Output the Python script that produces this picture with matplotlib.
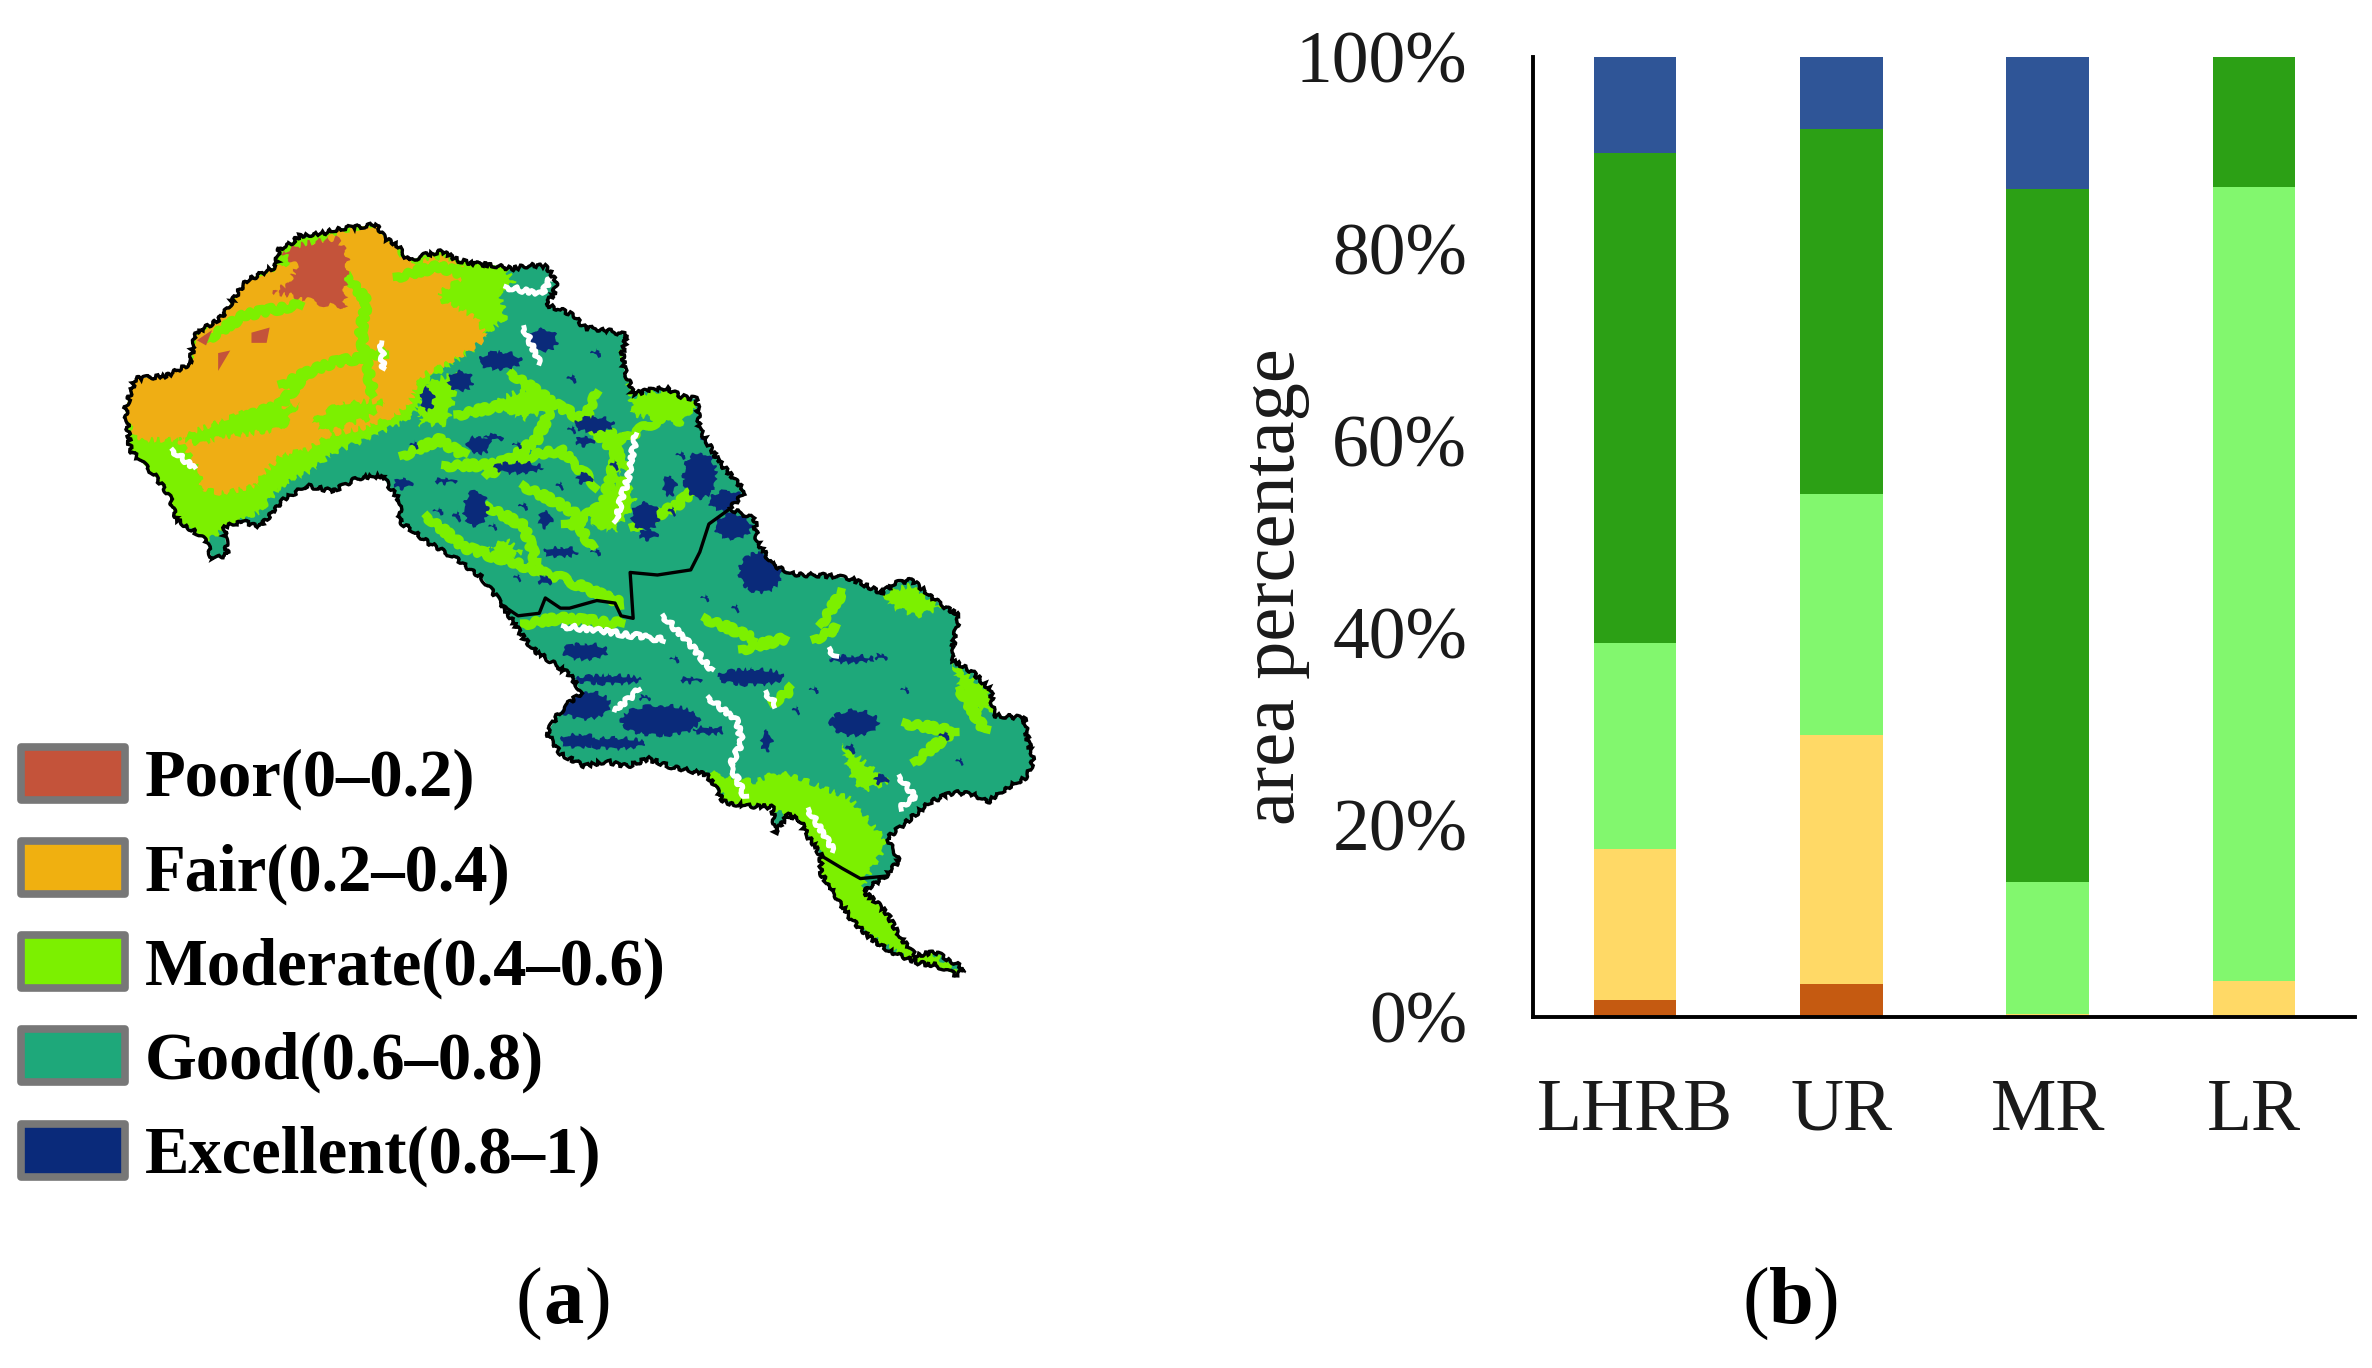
import matplotlib
matplotlib.use("Agg")
import matplotlib.pyplot as plt
from matplotlib.patches import Polygon, Rectangle, Ellipse

plt.rcParams['font.family'] = ['Liberation Serif', 'DejaVu Serif']

# ---- panel b data (percent of area)
regions = ['LHRB', 'UR', 'MR', 'LR']
poor = [1.8, 3.4, 0, 0]
fair = [15.7, 26.0, 0.3, 3.7]
moderate = [21.5, 25.1, 13.8, 82.8]
good = [51.0, 38.0, 72.2, 13.5]
excellent = [10.0, 7.5, 13.7, 0]
bar_colors = ['#C55A11', '#FFD966', '#82F76E', '#2CA015', '#2F5597']

legend_labels = ['Poor(0–0.2)', 'Fair(0.2–0.4)', 'Moderate(0.4–0.6)',
                 'Good(0.6–0.8)', 'Excellent(0.8–1)']
legend_colors = ['#C4533A', '#F0B010', '#7CF000', '#1EA87A', '#0A2A7A']

# ---- panel a data, outlines
basin = [(295,95),(312,88),(330,70),(365,66),(400,55),(430,52),(455,48),(470,75),(490,88),(510,120),(535,108),
         (565,100),(590,118),(620,125),(650,128),(680,135),(710,128),(735,130),(755,160),(748,185),(735,205),
         (760,215),(780,225),(800,250),(835,255),(870,265),(862,300),(865,330),(880,380),(910,372),(935,368),
         (960,385),(985,390),(990,450),(1005,480),(1020,510),(1045,545),(1065,570),(1040,605),(1080,625),
         (1085,670),(1110,715),(1150,735),(1190,735),(1240,742),(1290,770),(1315,750),(1340,745),(1365,770),
         (1385,790),(1418,815),(1410,860),(1405,900),(1440,925),(1470,960),(1475,1010),(1525,1015),(1532,1060),
         (1540,1100),(1530,1130),(1500,1150),(1465,1180),(1440,1165),(1410,1160),(1370,1180),(1335,1215),
         (1300,1250),(1318,1295),(1298,1325),(1260,1355),(1280,1375),(1300,1400),(1320,1445),(1345,1480),
         (1380,1475),(1425,1505),(1415,1520),(1380,1500),(1350,1495),(1300,1470),(1270,1445),(1240,1410),
         (1215,1365),(1190,1320),(1190,1285),(1170,1250),(1155,1215),(1135,1205),(1115,1240),(1110,1190),
         (1070,1188),(1030,1180),(1015,1150),(1000,1125),(940,1110),(905,1095),(870,1110),(835,1100),(800,1110),
         (760,1085),(738,1045),(755,1010),(770,990),(795,965),(775,930),(745,905),(720,885),(700,860),(665,795),
         (630,740),(590,705),(540,670),(495,630),(495,590),(465,540),(425,545),(385,570),(340,560),(300,590),
         (265,640),(235,630),(205,640),(210,695),(185,705),(175,665),(125,625),(115,580),(90,540),(50,490),
         (42,410),(58,350),(110,345),(150,320),(155,265),(200,230),(240,160),(290,130)]
ur_mr_border = [(665,795),(690,815),(725,810),(735,780),(760,800),(775,800),(820,785),(850,790),(860,815),(880,820),
                (875,730),(920,735),(975,725),(990,690),(1005,635),(1040,605)]
mr_lr_border = [(1190,1285),(1225,1310),(1255,1330),(1298,1325)]

moderate_areas = [
    [(30,400),(50,500),(115,590),(125,630),(175,670),(205,645),(265,610),(300,560),(350,530),(385,495),(440,470),
     (500,440),(530,400),(550,345),(620,290),(680,240),(690,170),(660,120),(450,40),(290,80),(150,260)],
    [(1000,1120),(1040,1190),(1110,1195),(1150,1215),(1190,1285),(1190,1330),(1240,1420),(1350,1500),(1430,1530),
     (1300,1400),(1260,1340),(1300,1260),(1240,1175),(1170,1140),(1120,1120),(1080,1140)],
    [(820,610),(860,530),(885,590),(850,650),(810,640)],
    [(640,680),(670,665),(695,690),(665,710)],
    [(1290,770),(1340,755),(1390,800),(1350,815),(1310,800)],
    [(1405,905),(1470,965),(1470,1005),(1430,990)],
    [(1225,1065),(1250,1090),(1300,1140),(1260,1160),(1235,1120)],
    [(530,360),(590,340),(575,440),(525,440)],
    [(860,290),(880,385),(935,370),(990,395),(960,440),(880,420)],
    [(640,400),(700,370),(760,400),(700,430)],
]
fair_area = [(300,130),(400,60),(455,50),(510,125),(570,110),(610,145),(560,180),(560,195),(620,230),(640,270),(590,310),
             (530,345),(510,400),(490,420),(440,445),(380,460),(340,490),(300,510),(260,560),(200,575),(150,560),(115,510),
             (60,470),(35,410),(50,345),(110,335),(150,310),(155,265),(200,225),(240,155)]
fair_cut = [[(50,470),(130,470),(165,530),(170,640),(110,600)],
            [(130,465),(240,415),(330,400),(300,450),(200,465),(165,480)],
            [(400,395),(470,395),(440,430),(370,455),(350,430)],
            [(250,560),(300,500),(340,490),(300,570)]]
poor_area = [(300,100),(340,85),(390,75),(410,110),(405,165),(405,212),(370,205),(325,190),(285,180),(310,165),(325,130)]
poor_bits = [[(160,275),(185,255),(175,285)], [(195,300),(215,295),(195,335)], [(250,260),(280,250),(275,280),(250,280)]]
good_patches = [[(660,175),(745,130),(760,160),(735,210),(700,265),(640,290),(610,290),(670,230)],
                [(380,510),(440,475),(490,440),(530,420),(510,560),(420,560),(385,560)]]

stream_moderate = [
    [(180,270),(240,225),(330,205)],
    [(410,150),(440,200),(430,260),(450,380)],
    [(300,360),(380,320),(470,300)],
    [(210,440),(300,400),(340,340)],
    [(490,150),(560,130),(610,150)],
    [(680,340),(750,400),(860,470),(940,420)],
    [(750,400),(720,470),(640,540)],
    [(590,420),(680,400),(750,400)],
    [(860,470),(830,600),(770,640)],
    [(540,620),(600,680),(760,740),(860,790)],
    [(570,520),(640,520),(760,490),(820,560)],
    [(700,560),(780,610),(810,680)],
    [(500,500),(560,470),(600,500)],
    [(820,380),(800,430),(870,520)],
    [(640,600),(700,640),(720,710)],
    [(880,640),(950,600),(990,560)],
    [(1190,830),(1225,770)],
    [(1180,860),(1215,840)],
    [(1345,1100),(1410,1040)],
    [(1060,880),(1130,860)],
    [(700,830),(760,820),(860,830)],
    [(1110,985),(1140,960)],
    [(1330,1025),(1400,1040)],
    [(1420,960),(1460,1040)],
    [(1000,820),(1080,860)],
]
stream_white = [
    [(1005,975),(1050,1020),(1060,1065),(1040,1105),(1065,1170)],
    [(1320,1130),(1345,1170),(1320,1190)],
    [(930,815),(980,880),(1010,920)],
    [(765,835),(860,850),(930,862)],
    [(890,960),(850,1000)],
    [(885,460),(870,550),(850,630)],
    [(465,280),(467,330)],
    [(670,170),(730,185),(745,150)],
    [(120,490),(155,525)],
    [(1170,1195),(1210,1275)],
    [(700,250),(725,320)],
    [(1100,965),(1115,990)],
    [(1205,880),(1215,895)],
]
# blobs: centre x, centre y, width, height
excellent_blobs = [(690,525,80,22),(625,480,40,35),(620,605,40,70),(900,620,45,55),(815,440,65,30),(800,472,30,20),
                   (660,315,70,35),(730,275,50,45),(595,355,40,40),(540,390,22,45),(990,540,55,90),(1035,590,60,40),
                   (1045,640,60,50),(1090,730,70,80),(760,690,55,20),(735,625,22,35),(570,550,35,12),(800,545,25,22),
                   (650,465,30,14),(735,745,22,18),(940,560,22,40),(500,555,30,22),(905,655,30,22),
                   (800,885,75,32),(840,940,110,18),(925,1020,130,60),(800,990,85,55),(850,1065,100,22),(1075,935,110,32),
                   (1245,1025,80,50),(1240,900,75,15),(790,1060,60,28),(1005,1040,50,16),(1290,895,20,12),(1100,1060,18,40),
                   (1240,1075,14,18),(975,940,34,12),(1395,1050,16,14),(1290,1135,22,20),
                   (820,300,16,12),(780,350,14,14),(690,480,14,10),(850,520,12,16),(700,600,14,12),(760,560,10,14),
                   (590,620,12,18),(560,610,16,10),(650,640,12,10),(945,610,10,16),(1000,470,12,20),(960,500,14,12),
                   (520,480,12,12),(780,450,12,12),(820,690,16,10),(690,740,10,12),(1000,780,12,10),(1050,800,10,14),
                   (1180,960,14,10),(1150,1000,10,14),(1330,960,12,10),(1420,1100,10,12),(950,900,14,10),(900,975,18,10)]

# ---- figure
fig = plt.figure(figsize=(23.72, 13.68), dpi=100)
W, H = 2372.0, 1368.0


def px_axes(x0, y0, x1, y1):
    return fig.add_axes([x0 / W, 1 - y1 / H, (x1 - x0) / W, (y1 - y0) / H])


# map
ax_map = px_axes(100, 200, 1050, 1000)
ax_map.set_xlim(0, 1568)
ax_map.set_ylim(1568, 0)
ax_map.axis('off')
outline = Polygon(basin, closed=True, facecolor='#1EA87A', edgecolor='none', zorder=1)
ax_map.add_patch(outline)


def clipped(artist, rough=None):
    artist.set_clip_path(outline)
    if rough:
        artist.set_sketch_params(*rough)


for area in moderate_areas:
    clipped(ax_map.fill(*zip(*area), color='#7CF000', lw=0, zorder=2)[0], (3, 20, 8))
for area in good_patches:
    clipped(ax_map.fill(*zip(*area), color='#1EA87A', lw=0, zorder=2.5)[0], (3, 20, 8))
clipped(ax_map.fill(*zip(*fair_area), color='#EFAE14', lw=0, zorder=3)[0], (3, 20, 8))
for area in fair_cut:
    clipped(ax_map.fill(*zip(*area), color='#7CF000', lw=0, zorder=3.1)[0], (3, 20, 8))
for line in stream_moderate:
    clipped(ax_map.plot(*zip(*line), color='#7CF000', lw=6, zorder=3.5)[0], (3, 20, 8))
clipped(ax_map.fill(*zip(*poor_area), color='#C4533A', lw=0, zorder=4)[0], (3, 20, 8))
for area in poor_bits:
    clipped(ax_map.fill(*zip(*area), color='#C4533A', lw=0, zorder=4)[0])
for x, y, w, h in excellent_blobs:
    blob = Ellipse((x, y), w, h, facecolor='#0A2A7A', edgecolor='none', zorder=5)
    ax_map.add_patch(blob)
    clipped(blob, (2, 14, 6))
for line in stream_white:
    clipped(ax_map.plot(*zip(*line), color='white', lw=3.5, zorder=6)[0], (2.5, 16, 6))
border = Polygon(basin, closed=True, fill=False, edgecolor='black', lw=2.4, zorder=7)
border.set_sketch_params(2, 14, 6)
ax_map.add_patch(border)
ax_map.plot(*zip(*ur_mr_border), color='black', lw=2.4, zorder=7)
ax_map.plot(*zip(*mr_lr_border), color='black', lw=2.4, zorder=7)

# stacked bars
ax = px_axes(1532.6, 57, 2355, 1017)
bottom = [0, 0, 0, 0]
xs = list(range(len(regions)))
for vals, col in zip([poor, fair, moderate, good, excellent], bar_colors):
    ax.bar(xs, vals, width=0.4, bottom=bottom, color=col)
    bottom = [b + v for b, v in zip(bottom, vals)]
ax.set_xlim(-0.496, 3.49)
ax.set_ylim(0, 100)
ax.set_yticks([0, 20, 40, 60, 80, 100])
ax.set_yticklabels(['0%', '20%', '40%', '60%', '80%', '100%'], fontsize=53, color='#1a1a1a')
ax.set_xticks(xs)
ax.set_xticklabels(regions, fontsize=53, color='#1a1a1a')
ax.tick_params(axis='y', length=0, pad=47)
ax.tick_params(axis='x', length=0, pad=44)
ax.spines['top'].set_visible(False)
ax.spines['right'].set_visible(False)
ax.spines['left'].set_linewidth(2.8)
ax.spines['bottom'].set_linewidth(2.8)

# overlay in pixels for legend and panel labels
ax_key = fig.add_axes([0, 0, 1, 1], zorder=-1)
ax_key.set_xlim(0, W)
ax_key.set_ylim(H, 0)
ax_key.axis('off')
for i, (label, col) in enumerate(zip(legend_labels, legend_colors)):
    top = 746.5 + 94.3 * i
    ax_key.add_patch(Rectangle((21, top), 104, 53, facecolor=col, edgecolor='#777777', lw=5.5, joinstyle='round'))
    ax_key.text(145, top + 33, label, fontsize=48, fontweight='bold', color='black', va='center', ha='left')

for x, txt, weight in [(529, '(', 'normal'), (564, 'a', 'bold'), (598, ')', 'normal'),
                       (1756, '(', 'normal'), (1791, 'b', 'bold'), (1826, ')', 'normal')]:
    ax_key.text(x, 1304, txt, fontsize=58, fontweight=weight, ha='center', va='center', color='black')

fig.text(1275 / W, 1 - 587 / H, 'area percentage', fontsize=55, rotation=90, color='#1a1a1a', ha='center', va='center')

fig.savefig('out.png', dpi=100, facecolor='white')
